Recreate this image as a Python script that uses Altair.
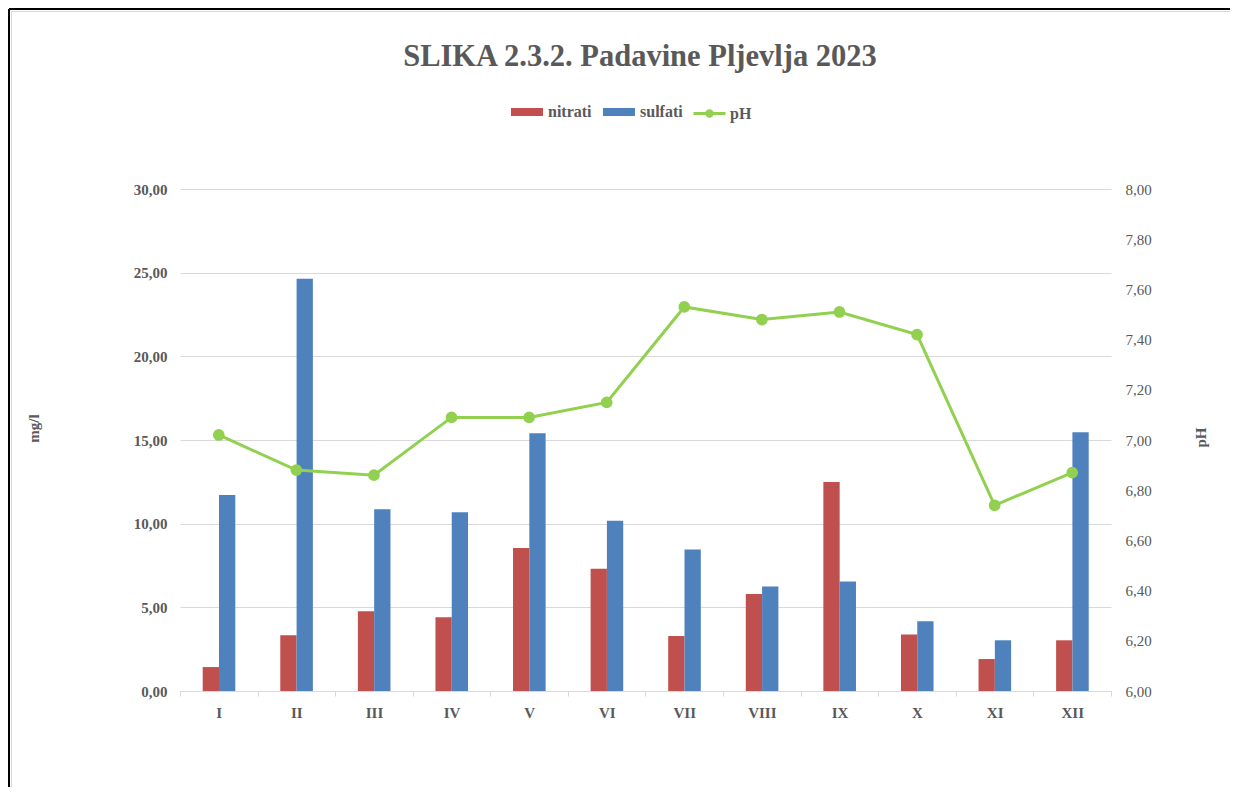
import altair as alt
import pandas as pd

# ---- data ----
months = ["I", "II", "III", "IV", "V", "VI", "VII", "VIII", "IX", "X", "XI", "XII"]
nitrati = [1.43, 3.33, 4.76, 4.40, 8.55, 7.31, 3.29, 5.80, 12.49, 3.37, 1.91, 3.03]
sulfati = [11.71, 24.63, 10.86, 10.68, 15.40, 10.18, 8.45, 6.24, 6.55, 4.17, 3.03, 15.46]
ph = [7.02, 6.88, 6.86, 7.09, 7.09, 7.15, 7.53, 7.48, 7.51, 7.42, 6.74, 6.87]

left_ticks = [0, 5, 10, 15, 20, 25, 30]
right_ticks = [6.0, 6.2, 6.4, 6.6, 6.8, 7.0, 7.2, 7.4, 7.6, 7.8, 8.0]

TITLE = "SLIKA 2.3.2. Padavine Pljevlja 2023"

# ---- styling ----
FONT = "Liberation Serif"
GREY = "#595959"
GRID = "#D9D9D9"
RED = "#C0504D"
BLUE = "#4F81BD"
GREEN = "#92D050"

W, H = 931, 502
PAD = {"left": 172, "top": 181, "right": 119, "bottom": 96}

bar_df = pd.DataFrame({
    "mjesec": months * 2,
    "serija": ["nitrati"] * len(months) + ["sulfati"] * len(months),
    "vrijednost": nitrati + sulfati,
})
ph_df = pd.DataFrame({"mjesec": months, "serija": ["pH"] * len(months), "pH": ph})

comma = "replace(format(datum.value, '.2f'), '.', ',')"

x_enc = alt.X(
    "mjesec:N",
    sort=months,
    scale=alt.Scale(paddingInner=0, paddingOuter=0),
    axis=alt.Axis(
        title=None, labelAngle=0, tickBand="extent", grid=False,
        domainColor=GRID, tickColor=GRID, tickSize=5,
        labelFont=FONT, labelFontWeight="bold", labelFontSize=15,
        labelColor=GREY, labelPadding=9,
    ),
)

RECT_PATH = "M-1,-0.25H1V0.25H-1Z"
PH_PATH = ("M-1,0H1"
           "M-0.17,0A0.17,0.17 0 1,1 0.17,0A0.17,0.17 0 1,1 -0.17,0"
           "M-0.05,0A0.05,0.05 0 1,1 0.05,0A0.05,0.05 0 1,1 -0.05,0")

bars = alt.Chart(bar_df).mark_bar().encode(
    x=x_enc,
    xOffset=alt.XOffset(
        "serija:N",
        scale=alt.Scale(domain=["nitrati", "sulfati"], paddingInner=0,
                        paddingOuter=0, range=[22.7, 55.3]),
    ),
    y=alt.Y(
        "vrijednost:Q",
        scale=alt.Scale(domain=[0, 30], nice=False),
        axis=alt.Axis(
            values=left_ticks, labelExpr=comma, grid=True, gridColor=GRID,
            domain=False, ticks=False, labelPadding=13,
            labelFont=FONT, labelFontWeight="bold", labelFontSize=15, labelColor=GREY,
            title="mg/l", titleFont=FONT, titleFontWeight="bold", titleFontSize=15,
            titleColor=GREY, titleX=-147, titleY=239, titleAngle=-90,
            titleAlign="center", titleBaseline="middle",
        ),
    ),
    fill=alt.Fill(
        "serija:N",
        scale=alt.Scale(domain=["nitrati", "sulfati"], range=[RED, BLUE]),
        legend=alt.Legend(
            title=None, orient="none", legendX=331, legendY=-93,
            direction="horizontal", symbolType=RECT_PATH, symbolSize=1024,
            symbolStrokeWidth=0, labelFont=FONT, labelFontSize=16,
            labelFontWeight="bold", labelColor=GREY, labelOffset=5,
            columnPadding=11, padding=0,
        ),
    ),
)

line = alt.Chart(ph_df).mark_line(
    strokeWidth=3,
    point=alt.OverlayMarkDef(filled=True, fill=GREEN, size=95),
).encode(
    x=x_enc,
    y=alt.Y(
        "pH:Q",
        scale=alt.Scale(domain=[6, 8], nice=False, zero=False),
        axis=alt.Axis(
            orient="right", values=right_ticks, labelExpr=comma, grid=False,
            domain=False, ticks=False, labelPadding=14,
            labelFont=FONT, labelFontWeight="normal", labelFontSize=15, labelColor=GREY,
            title="pH", titleFont=FONT, titleFontWeight="bold", titleFontSize=15,
            titleColor=GREY, titleX=89, titleY=248, titleAngle=-90,
            titleAlign="center", titleBaseline="middle",
        ),
    ),
    stroke=alt.Stroke(
        "serija:N",
        scale=alt.Scale(domain=["pH"], range=[GREEN]),
        legend=alt.Legend(
            title=None, orient="none", legendX=512, legendY=-93,
            direction="horizontal", symbolType=PH_PATH, symbolSize=1024,
            symbolStrokeWidth=3, labelFont=FONT, labelFontSize=16,
            labelFontWeight="bold", labelColor=GREY, labelOffset=3,
            padding=0,
        ),
    ),
)

title = alt.Chart(pd.DataFrame({"t": [TITLE]})).mark_text(
    font=FONT, fontSize=30.5, fontWeight="bold", color=GREY,
    align="center", baseline="middle",
).encode(text="t:N", x=alt.value(460), y=alt.value(-132))

one = pd.DataFrame({"k": [0]})
frame_left = alt.Chart(one).mark_rule(color="black", strokeWidth=2).encode(
    x=alt.value(-171), y=alt.value(-180), y2=alt.value(H + 200))
frame_top = alt.Chart(one).mark_rule(color="black", strokeWidth=2).encode(
    x=alt.value(-171), x2=alt.value(W + 200), y=alt.value(-180))
frame_left_in = alt.Chart(one).mark_rule(color=GRID, strokeWidth=1).encode(
    x=alt.value(-168.5), y=alt.value(-178), y2=alt.value(H + 200))
frame_top_in = alt.Chart(one).mark_rule(color=GRID, strokeWidth=1).encode(
    x=alt.value(-169), x2=alt.value(W + 200), y=alt.value(-177.5))

chart = alt.layer(
    bars, line, title, frame_left, frame_top, frame_left_in, frame_top_in
).resolve_scale(
    y="independent"
).properties(
    width=W, height=H, padding=PAD,
    autosize=alt.AutoSizeParams(type="none"),
    background="white",
).configure_view(stroke=None)

chart.save("out.html", embed_options={"renderer": "svg", "actions": False})
